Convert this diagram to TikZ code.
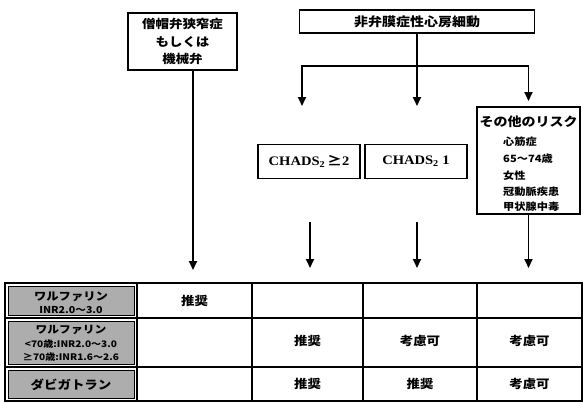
\documentclass[tikz,border=0pt]{standalone}
\usepackage{fontspec}
\newfontfamily\jp{Noto Sans CJK JP}[FakeStretch=1.12]
\newfontfamily\serifb{Liberation Serif}[FakeStretch=1.12]
\usetikzlibrary{arrows.meta}
\begin{document}
\begin{tikzpicture}[x=1pt,y=-1pt,
  box/.style={draw,line width=1.6pt,inner sep=0pt,align=center},
  conn/.style={line width=1.8pt},
  arr/.style={line width=1.8pt,-{Triangle[length=9pt,width=8pt]}},
  tbl/.style={line width=1.6pt},
  lab/.style={draw,line width=0.6pt,fill=black!32},
  jpt/.style={font=\jp\bfseries\fontsize{#1}{#1}\selectfont,inner sep=0pt},
  cell/.style={font=\jp\bfseries\fontsize{12}{12}\selectfont,inner sep=0pt},
  chads/.style={box,minimum width=102pt,minimum height=34pt,font=\serifb\bfseries\fontsize{13}{13}\selectfont}]
\useasboundingbox (0,0) rectangle (583,402);

% top boxes
\node[box,minimum width=109pt,minimum height=57pt,font=\jp\bfseries\fontsize{12}{17.5}\selectfont] (mitral) at (182.5,41.5) {僧帽弁狭窄症\\もしくは\\機械弁};
\node[box,minimum width=235pt,minimum height=23pt,font=\jp\bfseries\fontsize{12.5}{12.5}\selectfont] (af) at (417,21.5) {非弁膜症性心房細動};

\node[chads] (c2) at (309,161.5) {CHADS\textsubscript{2}\,{\jp ≥}2};
\node[chads] (c1) at (416,161.5) {CHADS\textsubscript{2} 1};
\node[box,minimum width=103pt,minimum height=107pt] (risk) at (528.5,160.5) {};
\node[jpt=12.5] (risktitle) at (528.5,122) {その他のリスク};
\node[jpt=10,anchor=west] (r1) at (503,142) {心筋症};
\node[jpt=10,anchor=west] (r2) at (503,159) {65～74歳};
\node[jpt=10,anchor=west] (r3) at (503,176) {女性};
\node[jpt=10,anchor=west] (r4) at (503,192) {冠動脈疾患};
\node[jpt=10,anchor=west] (r5) at (503,207) {甲状腺中毒};

% connectors
\coordinate (split) at (417,66);
\coordinate (tipA) at (302,106);
\coordinate (tipB) at (417,106);
\coordinate (tipC) at (528.5,101);
\draw[arr] (af.south) -- (tipB);
\draw[arr] (split) -| (tipA);
\draw[arr] (split) -| (tipC);

\coordinate (t1) at (193,270);
\coordinate (s2) at (310,222);
\coordinate (t2) at (310,268);
\coordinate (s3) at (417,222);
\coordinate (t3) at (417,268);
\coordinate (t4) at (528.5,268);
\draw[arr] (mitral.south -| t1) -- (t1);
\draw[arr] (s2) -- (t2);
\draw[arr] (s3) -- (t3);
\draw[arr] (risk.south) -- (t4);

% table
\draw[lab] (8,286) rectangle (134,315);
\draw[lab] (8,321) rectangle (134,364);
\draw[lab] (8,370) rectangle (134,398);
\draw[tbl] (5,283) rectangle (582,401);
\draw[tbl] (5,318) -- (582,318);
\draw[tbl] (5,367) -- (582,367);
\foreach \x in {137,252,363,477} \draw[line width=2pt] (\x,283) -- (\x,401);

\node[jpt=11] (w1a) at (71,297) {ワルファリン};
\node[jpt=9.5] (w1b) at (71,310) {INR2.0～3.0};
\node[jpt=10.5] (w2a) at (71,330) {ワルファリン};
\node[jpt=9] (w2b) at (71,344) {<70歳:INR2.0～3.0};
\node[jpt=9] (w2c) at (71,357.5) {≥70歳:INR1.6～2.6};
\node[jpt=12] (w3) at (71,384.5) {ダビガトラン};

\node[cell] (a11) at (194.5,301) {推奨};
\node[cell] (a22) at (307.5,341) {推奨};
\node[cell] (a23) at (420,341) {考慮可};
\node[cell] (a24) at (529.5,341) {考慮可};
\node[cell] (a32) at (307.5,384) {推奨};
\node[cell] (a33) at (420,384) {推奨};
\node[cell] (a34) at (529.5,384) {考慮可};
\end{tikzpicture}
\end{document}
